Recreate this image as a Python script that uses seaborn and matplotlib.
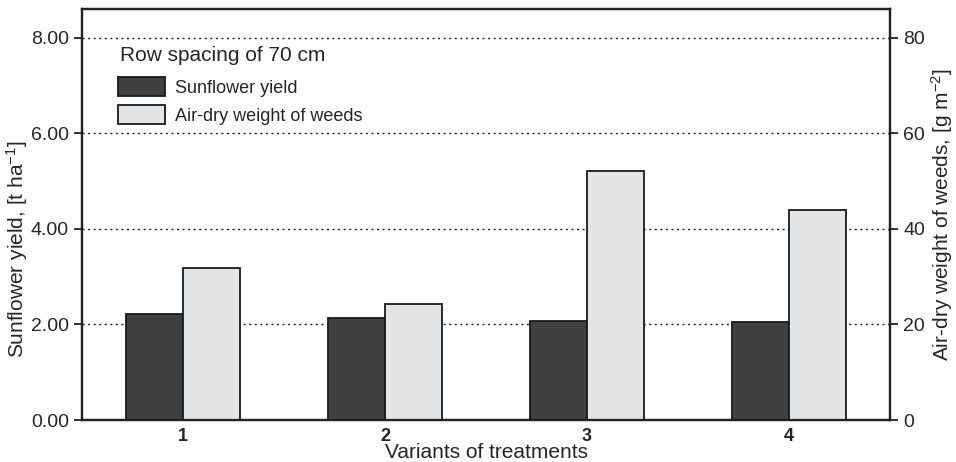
import numpy as np
import matplotlib
matplotlib.use("Agg")
import matplotlib.pyplot as plt
from matplotlib.patches import Patch
from matplotlib.ticker import FormatStrFormatter
import seaborn as sns
import pandas as pd

variants = ["1", "2", "3", "4"]
yield_t_ha = [2.22, 2.14, 2.07, 2.05]
weeds_g_m2 = [31.8, 24.3, 52.0, 44.0]
series = ["Sunflower yield", "Air-dry weight of weeds"]
colors = ["#404040", "#e4e5e7"]

sns.set_style("white")
plt.rcParams['font.family'] = ['Liberation Sans', 'DejaVu Sans']
plt.rcParams['mathtext.default'] = 'regular'

df_yield = pd.DataFrame({'variant': variants, 'value': yield_t_ha, 'series': series[0]})
df_weeds = pd.DataFrame({'variant': variants, 'value': weeds_g_m2, 'series': series[1]})

fig = plt.figure(figsize=(9.56, 4.62), dpi=100)
ax = fig.add_axes([0.0858, 0.0909, 0.8452, 0.8896])
ax2 = ax.twinx()

pal = dict(zip(series, colors))
sns.barplot(data=df_yield, x='variant', y='value', hue='series', hue_order=series,
            palette=pal, width=0.565, dodge=True, edgecolor='#1a1a1a', linewidth=1.3,
            legend=False, ax=ax)
sns.barplot(data=df_weeds, x='variant', y='value', hue='series', hue_order=series,
            palette=pal, width=0.565, dodge=True, edgecolor='#1a1a1a', linewidth=1.3,
            legend=False, ax=ax2)

ax.set_xlim(-0.5, 3.5)
ax.set_ylim(0, 8.6)
ax2.set_ylim(0, 86)
ax.set_yticks([0, 2, 4, 6, 8])
ax.yaxis.set_major_formatter(FormatStrFormatter('%.2f'))
ax2.set_yticks([0, 20, 40, 60, 80])

# dotted grid behind bars
for v in [2, 4, 6, 8]:
    ax.axhline(v, color='#222222', linestyle=(0, (1.5, 2.5)), linewidth=1.0, zorder=0)

# category labels centered, tick marks between categories
ax.set_xticks(range(4))
ax.set_xticklabels(variants, fontweight='bold', fontsize=13)
ax.set_xticks(np.arange(-0.5, 4.0, 1.0), minor=True)
ax.tick_params(axis='x', which='major', length=0, pad=6)
ax.tick_params(axis='x', which='minor', length=6, width=1.3, direction='out', color='#222222')
ax.tick_params(axis='y', length=6, width=1.3, direction='out', labelsize=14, color='#222222', left=True)
ax2.tick_params(axis='y', length=6, width=1.3, direction='out', labelsize=14, color='#222222', right=True)

ax.set_xlabel("Variants of treatments", fontsize=15, labelpad=-1.5)
ax.set_ylabel("Sunflower yield, [t ha$^{-1}$]", fontsize=15)
ax.yaxis.set_label_coords(-0.064, 0.416)
ax2.set_ylabel("Air-dry weight of weeds, [g m$^{-2}$]", fontsize=15, labelpad=3)

for a in (ax, ax2):
    for s in a.spines.values():
        s.set_color('#222222')
        s.set_linewidth(1.6)
        s.set_visible(True)

ax2.text(0.047, 0.888, "Row spacing of 70 cm", transform=ax2.transAxes,
         fontsize=15, ha='left', va='center')
handles = [Patch(facecolor=c, edgecolor='#1a1a1a', linewidth=1.3) for c in colors]
ax2.legend(handles, series, loc='upper left', bbox_to_anchor=(0.0446, 0.834),
           borderaxespad=0, borderpad=0, frameon=False, fontsize=13,
           handlelength=2.6, handleheight=1.25, handletextpad=0.55, labelspacing=0.45)

fig.savefig("out.png", dpi=100)
